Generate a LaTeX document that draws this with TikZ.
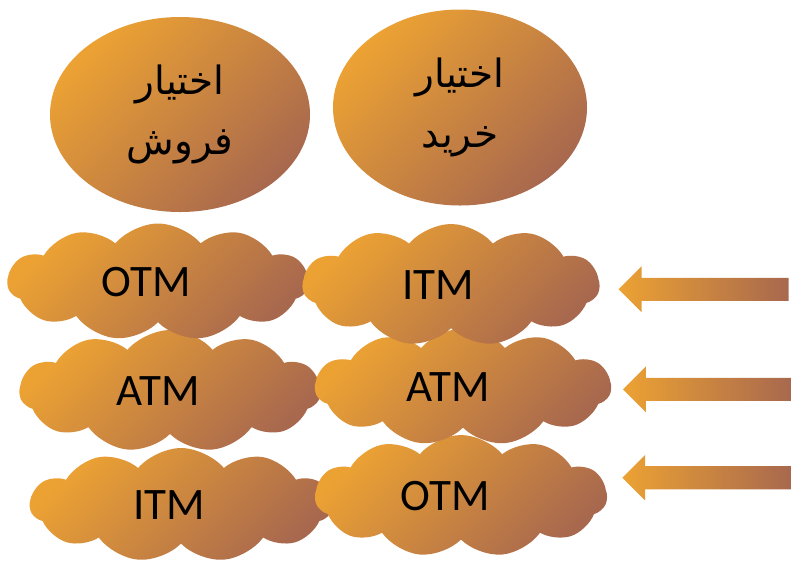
\documentclass[tikz,border=0pt]{standalone}
\usepackage{fontspec}
\setmainfont{Carlito}
\newfontfamily\arabicfont[Script=Arabic]{DejaVu Sans}
\TeXXeTstate=1
\usetikzlibrary{shapes.symbols,shapes.arrows,shapes.geometric}
\definecolor{orng}{HTML}{ECA233}
\definecolor{brwn}{HTML}{A8684E}
\tikzset{
 grad/.style={top color=orng, bottom color=brwn, shading angle=45},
 oval/.style={ellipse, grad, inner sep=0pt, align=center,
   font=\arabicfont\fontsize{39}{60}\selectfont},
 puff/.style={cloud, cloud puffs=11, cloud puff arc=100, cloud ignores aspect,
   grad, inner sep=0pt},
 cloudtext/.style={font=\fontsize{45}{54}\selectfont, text=black},
 blockarrow/.style={single arrow, shape border rotate=180, left color=orng,
   right color=brwn, inner sep=11.35pt, single arrow head extend=11.4pt,
   single arrow tip angle=90, anchor=tip}
}
\begin{document}
\begin{tikzpicture}[x=1pt,y=-1pt]
\useasboundingbox (0,0) rectangle (791,566);
% top ellipses
\node[oval, minimum width=260pt, minimum height=195pt] (sell) at (180,114.5)
  {\beginR اختيار\endR\\\beginR فروش\endR};
\node[oval, minimum width=254pt, minimum height=196pt] (buy) at (460,107.5)
  {\beginR اختيار\endR\\\beginR خريد\endR};
% left column clouds
\node[puff, minimum width=302pt, minimum height=114pt,
  label={[cloudtext,xshift=-12pt]center:ITM}] (litm) at (181,505) {};
\node[puff, minimum width=301pt, minimum height=122pt,
  label={[cloudtext,xshift=-12pt]center:ATM}] (latm) at (170,391) {};
\node[puff, minimum width=301pt, minimum height=117pt,
  label={[cloudtext,xshift=-12pt]center:OTM}] (lotm) at (158,282) {};
% right column clouds
\node[puff, minimum width=292pt, minimum height=122pt,
  label={[cloudtext,xshift=-16pt]center:OTM}] (rotm) at (461,496) {};
\node[puff, minimum width=296pt, minimum height=117pt,
  label={[cloudtext,xshift=-15pt]center:ATM}] (ratm) at (463,387) {};
\node[puff, minimum width=297pt, minimum height=122pt,
  label={[cloudtext,xshift=-13pt]center:ITM}] (ritm) at (451,285) {};
% block arrows
\node[blockarrow, minimum height=170pt] (arr1) at (618.3,289.3) {};
\node[blockarrow, minimum height=168.5pt] (arr2) at (622.7,389.3) {};
\node[blockarrow, minimum height=169pt] (arr3) at (622,477.7) {};
\end{tikzpicture}
\end{document}
